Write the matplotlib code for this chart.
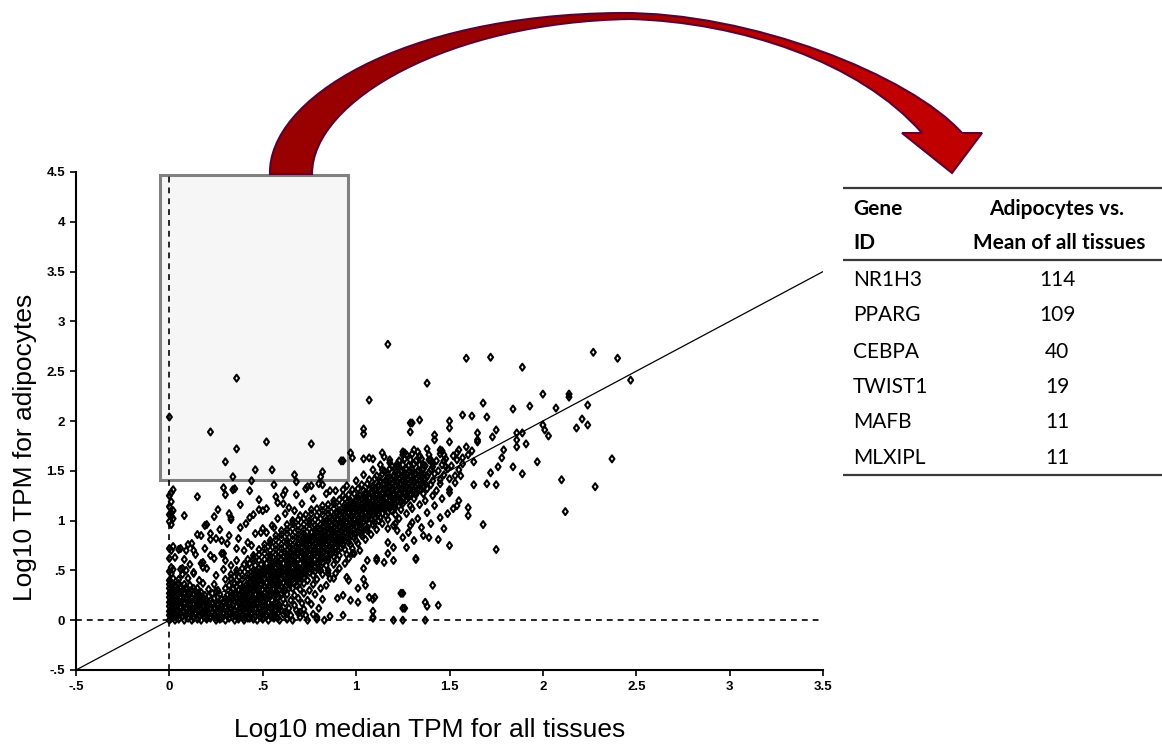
import numpy as np
import matplotlib
matplotlib.use('Agg')
import matplotlib.pyplot as plt
from matplotlib.path import Path
from matplotlib.patches import PathPatch, Rectangle
from matplotlib.colors import LinearSegmentedColormap
from matplotlib.ticker import FuncFormatter

# genes with zero median TPM (the column on x = 0)
zero_col = [(0.00, 0.00), (0.01, 0.02), (0.02, 0.03), (0.00, 0.05), (0.01, 0.06), (0.02, 0.08), (0.00, 0.09),
            (0.01, 0.11), (0.02, 0.12), (0.00, 0.14), (0.01, 0.15), (0.02, 0.17), (0.00, 0.18), (0.01, 0.20),
            (0.02, 0.21), (0.00, 0.23), (0.01, 0.24), (0.02, 0.26), (0.00, 0.27), (0.01, 0.29), (0.02, 0.30),
            (0.00, 0.32), (0.01, 0.34), (0.00, 0.36), (0.01, 0.38), (0.00, 0.40), (0.02, 0.42), (0.01, 0.47),
            (0.00, 0.49), (0.02, 0.51), (0.01, 0.53), (0.00, 0.62), (0.01, 0.70), (0.00, 0.72), (0.02, 0.74),
            (0.01, 0.96), (0.00, 0.99), (0.02, 1.02), (0.01, 1.04), (0.00, 1.06), (0.01, 1.08), (0.02, 1.10),
            (0.00, 1.14), (0.01, 1.19), (0.00, 1.25), (0.01, 1.28), (0.02, 1.31), (0.00, 2.04)]

# low expressed genes near the floor
floor_pts = [
    (0.03, .00), (0.05, .01), (0.08, .00), (0.10, .02), (0.12, .00), (0.15, .01), (0.17, .00), (0.20, .01),
    (0.22, .02), (0.25, .00), (0.27, .01), (0.30, .00), (0.32, .02), (0.35, .00), (0.37, .01), (0.40, .00),
    (0.42, .02), (0.45, .01), (0.47, .00), (0.50, .01), (0.53, .00), (0.56, .02), (0.59, .00), (0.63, .01),
    (0.66, .00), (0.70, .03), (0.74, .00), (0.79, .01), (0.83, .00),
    (0.03, .05), (0.06, .06), (0.09, .05), (0.11, .07), (0.14, .06), (0.16, .05), (0.19, .07), (0.21, .06),
    (0.24, .05), (0.26, .07), (0.29, .06), (0.31, .05), (0.34, .07), (0.36, .06), (0.39, .05), (0.41, .07),
    (0.44, .06), (0.46, .05), (0.49, .07), (0.52, .06), (0.55, .05), (0.58, .07), (0.61, .06), (0.65, .05),
    (0.69, .07), (0.73, .05), (0.77, .06), (0.86, .04),
    (0.04, .10), (0.06, .12), (0.09, .11), (0.12, .10), (0.14, .12), (0.17, .11), (0.19, .10), (0.22, .12),
    (0.24, .11), (0.27, .10), (0.30, .12), (0.33, .11), (0.35, .10), (0.38, .12), (0.40, .11), (0.43, .10),
    (0.46, .12), (0.48, .11), (0.51, .10), (0.54, .12), (0.57, .11), (0.60, .10), (0.64, .12), (0.68, .10),
    (0.72, .11), (0.80, .12),
    (0.03, .15), (0.05, .17), (0.08, .16), (0.11, .15), (0.13, .17), (0.16, .16), (0.18, .15), (0.21, .17),
    (0.23, .16), (0.26, .15), (0.29, .17), (0.32, .16), (0.34, .15), (0.37, .17), (0.40, .16), (0.42, .15),
    (0.45, .17), (0.47, .16), (0.50, .15), (0.53, .17), (0.56, .16), (0.59, .15), (0.62, .17), (0.67, .15),
    (0.71, .17), (0.76, .16),
    (0.04, .20), (0.06, .22), (0.09, .21), (0.11, .20), (0.14, .22), (0.17, .21), (0.20, .20), (0.24, .22),
    (0.28, .21), (0.31, .20), (0.34, .22), (0.36, .21), (0.39, .20), (0.41, .22), (0.44, .21), (0.46, .20),
    (0.49, .22), (0.52, .21), (0.55, .20), (0.58, .22), (0.61, .21), (0.65, .20), (0.69, .22), (0.74, .20),
    (0.82, .21),
    (0.03, .25), (0.05, .27), (0.08, .26), (0.10, .25), (0.13, .27), (0.16, .26), (0.19, .25), (0.23, .27),
    (0.27, .26), (0.31, .25), (0.35, .27), (0.38, .26), (0.41, .25), (0.43, .27), (0.46, .26), (0.48, .25),
    (0.51, .27), (0.54, .26), (0.57, .25), (0.60, .27), (0.63, .26), (0.67, .25), (0.72, .27), (0.78, .26),
    (0.04, .30), (0.06, .32), (0.09, .31), (0.12, .30), (0.15, .32), (0.21, .31), (0.26, .30), (0.30, .32),
    (0.34, .31), (0.37, .30), (0.40, .32), (0.42, .31), (0.45, .30), (0.47, .32), (0.50, .31), (0.53, .30),
    (0.56, .32), (0.59, .31), (0.62, .30), (0.66, .32), (0.70, .31), (0.75, .30), (0.81, .32),
    (0.03, .35), (0.05, .37), (0.08, .36), (0.11, .35), (0.18, .37), (0.24, .36), (0.32, .35), (0.35, .37),
    (0.38, .36), (0.41, .35), (0.44, .37), (0.46, .36), (0.49, .35), (0.52, .37), (0.55, .36), (0.58, .35),
    (0.61, .37), (0.64, .36), (0.68, .35), (0.72, .37), (0.77, .36), (0.84, .35),
]

# the blackest part of the floor, between the rows above
floor_core = [
    (0.04, .03), (0.07, .04), (0.10, .03), (0.13, .02), (0.16, .04), (0.19, .03), (0.22, .04), (0.25, .03),
    (0.28, .02), (0.31, .04), (0.34, .03), (0.37, .04), (0.40, .03), (0.43, .02), (0.46, .04), (0.49, .03),
    (0.52, .04), (0.55, .03), (0.58, .02),
    (0.02, .08), (0.05, .09), (0.08, .08), (0.11, .09), (0.14, .08), (0.17, .07), (0.20, .09), (0.23, .08),
    (0.26, .09), (0.29, .08), (0.32, .07), (0.35, .09), (0.38, .08), (0.41, .09), (0.44, .08), (0.47, .07),
    (0.50, .09), (0.53, .08), (0.57, .09), (0.62, .08),
    (0.03, .13), (0.06, .14), (0.09, .13), (0.12, .12), (0.15, .14), (0.18, .13), (0.21, .14), (0.24, .13),
    (0.27, .12), (0.30, .14), (0.33, .13), (0.36, .14), (0.39, .13), (0.42, .12), (0.45, .14), (0.48, .13),
    (0.51, .14), (0.55, .13), (0.59, .12),
    (0.02, .18), (0.05, .19), (0.08, .18), (0.11, .17), (0.14, .19), (0.17, .18), (0.20, .19), (0.23, .18),
    (0.26, .17), (0.29, .19), (0.32, .18), (0.35, .19), (0.38, .18), (0.41, .17), (0.44, .19), (0.47, .18),
    (0.50, .19), (0.53, .18), (0.57, .17),
    (0.03, .23), (0.06, .24), (0.09, .23), (0.12, .22), (0.15, .24), (0.18, .23), (0.21, .24), (0.26, .23),
    (0.30, .22), (0.33, .24), (0.36, .23), (0.39, .24), (0.42, .23), (0.45, .22), (0.48, .24), (0.51, .23),
    (0.54, .24), (0.58, .23),
    (0.02, .28), (0.05, .29), (0.08, .28), (0.11, .27), (0.14, .29), (0.17, .28), (0.25, .29), (0.33, .28),
    (0.36, .27), (0.39, .29), (0.42, .28), (0.45, .29), (0.48, .28), (0.51, .27), (0.54, .29), (0.57, .28),
    (0.61, .29),
    (0.03, .33), (0.06, .34), (0.09, .33), (0.13, .32), (0.36, .34), (0.39, .33), (0.42, .34), (0.45, .33),
    (0.48, .32), (0.51, .34), (0.54, .33), (0.57, .34), (0.60, .33), (0.64, .32),
]

# main diagonal cloud
band_pts = [
    (0.05, .41), (0.10, .42), (0.16, .40), (0.30, .41), (0.33, .42), (0.36, .40), (0.39, .41), (0.42, .42),
    (0.45, .40), (0.48, .41), (0.51, .42), (0.54, .40), (0.57, .41), (0.60, .42), (0.63, .40), (0.66, .41),
    (0.70, .42), (0.74, .40), (0.79, .41), (0.86, .42),
    (0.07, .46), (0.13, .47), (0.25, .45), (0.33, .46), (0.36, .47), (0.39, .45), (0.42, .46), (0.45, .47),
    (0.48, .45), (0.51, .46), (0.54, .47), (0.57, .45), (0.60, .46), (0.63, .47), (0.66, .45), (0.69, .46),
    (0.73, .47), (0.77, .45), (0.82, .46), (0.89, .47),
    (0.06, .51), (0.09, .50), (0.20, .52), (0.29, .51), (0.36, .50), (0.39, .52), (0.42, .51), (0.45, .50),
    (0.48, .52), (0.51, .51), (0.54, .50), (0.57, .52), (0.60, .51), (0.63, .50), (0.66, .52), (0.69, .51),
    (0.72, .50), (0.76, .52), (0.80, .51), (0.85, .50), (0.91, .52),
    (0.11, .56), (0.17, .57), (0.33, .55), (0.40, .56), (0.43, .57), (0.46, .55), (0.49, .56), (0.52, .57),
    (0.55, .55), (0.58, .56), (0.61, .57), (0.64, .55), (0.67, .56), (0.70, .57), (0.73, .55), (0.76, .56),
    (0.80, .57), (0.84, .55), (0.88, .56), (0.94, .57),
    (0.08, .61), (0.24, .62), (0.36, .60), (0.42, .61), (0.45, .62), (0.48, .60), (0.51, .61), (0.54, .62),
    (0.57, .60), (0.60, .61), (0.63, .62), (0.66, .60), (0.69, .61), (0.72, .62), (0.75, .60), (0.78, .61),
    (0.81, .62), (0.85, .60), (0.90, .61), (0.96, .62),
    (0.14, .66), (0.28, .67), (0.45, .65), (0.48, .66), (0.51, .67), (0.54, .65), (0.57, .66), (0.60, .67),
    (0.63, .65), (0.66, .66), (0.69, .67), (0.72, .65), (0.75, .66), (0.78, .67), (0.81, .65), (0.84, .66),
    (0.87, .67), (0.91, .65), (0.95, .66), (0.99, .67),
    (0.05, .71), (0.19, .72), (0.40, .70), (0.48, .71), (0.51, .72), (0.54, .70), (0.57, .71), (0.60, .72),
    (0.63, .70), (0.66, .71), (0.69, .72), (0.72, .70), (0.75, .71), (0.78, .72), (0.81, .70), (0.84, .71),
    (0.87, .72), (0.90, .70), (0.94, .71), (0.98, .72), (1.02, .70),
    (0.10, .76), (0.31, .77), (0.44, .75), (0.51, .76), (0.54, .77), (0.57, .75), (0.60, .76), (0.63, .77),
    (0.66, .75), (0.69, .76), (0.72, .77), (0.75, .75), (0.78, .76), (0.81, .77), (0.84, .75), (0.87, .76),
    (0.90, .77), (0.93, .75), (0.97, .76), (1.01, .77),
    (0.22, .81), (0.37, .82), (0.54, .80), (0.57, .81), (0.60, .82), (0.63, .80), (0.66, .81), (0.69, .82),
    (0.72, .80), (0.75, .81), (0.78, .82), (0.81, .80), (0.84, .81), (0.87, .82), (0.90, .80), (0.93, .81),
    (0.96, .82), (1.00, .80), (1.05, .81),
    (0.15, .86), (0.46, .87), (0.57, .85), (0.60, .86), (0.63, .87), (0.66, .85), (0.69, .86), (0.72, .87),
    (0.75, .85), (0.78, .86), (0.81, .87), (0.84, .85), (0.87, .86), (0.90, .87), (0.93, .85), (0.96, .86),
    (0.99, .87), (1.03, .85), (1.08, .86),
    (0.27, .91), (0.50, .92), (0.60, .90), (0.63, .91), (0.66, .92), (0.69, .90), (0.72, .91), (0.75, .92),
    (0.78, .90), (0.81, .91), (0.84, .92), (0.87, .90), (0.90, .91), (0.93, .92), (0.96, .90), (0.99, .91),
    (1.02, .92), (1.06, .90), (1.11, .91), (1.17, .92),
    (0.20, .96), (0.41, .97), (0.55, .95), (0.63, .96), (0.66, .97), (0.69, .95), (0.72, .96), (0.75, .97),
    (0.78, .95), (0.81, .96), (0.84, .97), (0.87, .95), (0.90, .96), (0.93, .97), (0.96, .95), (0.99, .96),
    (1.02, .97), (1.05, .95), (1.09, .96), (1.14, .97), (1.20, .95),
    (0.33, 1.01), (0.58, 1.02), (0.66, 1.00), (0.69, 1.01), (0.72, 1.02), (0.75, 1.00), (0.78, 1.01),
    (0.81, 1.02), (0.84, 1.00), (0.87, 1.01), (0.90, 1.02), (0.93, 1.00), (0.96, 1.01), (0.99, 1.02),
    (1.02, 1.00), (1.05, 1.01), (1.08, 1.02), (1.12, 1.00), (1.17, 1.01), (1.23, 1.02),
    (0.45, 1.06), (0.62, 1.07), (0.70, 1.05), (0.73, 1.06), (0.76, 1.07), (0.79, 1.05), (0.82, 1.06),
    (0.85, 1.07), (0.88, 1.05), (0.91, 1.06), (0.94, 1.07), (0.97, 1.05), (1.00, 1.06), (1.03, 1.07),
    (1.06, 1.05), (1.09, 1.06), (1.12, 1.07), (1.16, 1.05), (1.21, 1.06), (1.27, 1.07),
    (0.26, 1.11), (0.52, 1.12), (0.67, 1.10), (0.76, 1.11), (0.79, 1.12), (0.82, 1.10), (0.85, 1.11),
    (0.88, 1.12), (0.91, 1.10), (0.94, 1.11), (0.97, 1.12), (1.00, 1.10), (1.03, 1.11), (1.06, 1.12),
    (1.09, 1.10), (1.12, 1.11), (1.15, 1.12), (1.19, 1.10), (1.24, 1.11), (1.30, 1.12),
    (0.38, 1.16), (0.71, 1.17), (0.82, 1.15), (0.85, 1.16), (0.88, 1.17), (0.91, 1.15), (0.94, 1.16),
    (0.97, 1.17), (1.00, 1.15), (1.03, 1.16), (1.06, 1.17), (1.09, 1.15), (1.12, 1.16), (1.15, 1.17),
    (1.18, 1.15), (1.21, 1.16), (1.25, 1.17), (1.29, 1.15), (1.34, 1.16),
    (0.48, 1.21), (0.77, 1.22), (0.88, 1.20), (0.91, 1.21), (0.94, 1.22), (0.97, 1.20), (1.00, 1.21),
    (1.03, 1.22), (1.06, 1.20), (1.09, 1.21), (1.12, 1.22), (1.15, 1.20), (1.18, 1.21), (1.21, 1.22),
    (1.24, 1.20), (1.27, 1.21), (1.31, 1.22), (1.37, 1.20),
    (0.61, 1.26), (0.84, 1.27), (0.93, 1.25), (0.96, 1.26), (0.99, 1.27), (1.02, 1.25), (1.05, 1.26),
    (1.08, 1.27), (1.11, 1.25), (1.14, 1.26), (1.17, 1.27), (1.20, 1.25), (1.23, 1.26), (1.26, 1.27),
    (1.29, 1.25), (1.32, 1.26), (1.36, 1.27), (1.41, 1.25),
    (0.34, 1.31), (0.73, 1.32), (0.89, 1.30), (0.98, 1.31), (1.01, 1.32), (1.04, 1.30), (1.07, 1.31),
    (1.10, 1.32), (1.13, 1.30), (1.16, 1.31), (1.19, 1.32), (1.22, 1.30), (1.25, 1.31), (1.28, 1.32),
    (1.31, 1.30), (1.34, 1.31), (1.38, 1.32), (1.43, 1.30), (1.50, 1.31),
    (0.56, 1.36), (0.80, 1.37), (0.95, 1.35), (1.03, 1.36), (1.06, 1.37), (1.09, 1.35), (1.12, 1.36),
    (1.15, 1.37), (1.18, 1.35), (1.21, 1.36), (1.24, 1.37), (1.27, 1.35), (1.30, 1.36), (1.33, 1.37),
    (1.36, 1.35), (1.40, 1.36), (1.45, 1.37),
    (0.44, 1.40), (0.68, 1.39), (1.00, 1.40), (1.07, 1.41), (1.10, 1.42), (1.13, 1.40), (1.16, 1.41),
    (1.19, 1.42), (1.22, 1.40), (1.25, 1.41), (1.28, 1.42), (1.31, 1.40), (1.34, 1.41), (1.37, 1.42),
    (1.41, 1.40), (1.45, 1.41), (1.50, 1.42),
    (1.04, 1.46), (1.11, 1.45), (1.14, 1.47), (1.17, 1.46), (1.20, 1.45), (1.23, 1.47), (1.26, 1.46),
    (1.29, 1.45), (1.32, 1.47), (1.35, 1.46), (1.38, 1.45), (1.42, 1.47), (1.47, 1.46), (1.53, 1.45),
    (1.09, 1.51), (1.15, 1.50), (1.18, 1.52), (1.21, 1.51), (1.24, 1.50), (1.27, 1.52), (1.30, 1.51),
    (1.33, 1.50), (1.36, 1.52), (1.40, 1.51), (1.44, 1.50), (1.49, 1.52), (1.55, 1.51),
    (1.13, 1.56), (1.19, 1.55), (1.22, 1.57), (1.25, 1.56), (1.28, 1.55), (1.31, 1.57), (1.34, 1.56),
    (1.37, 1.55), (1.41, 1.57), (1.46, 1.56), (1.51, 1.55), (1.57, 1.57),
    (1.18, 1.61), (1.23, 1.60), (1.26, 1.62), (1.29, 1.61), (1.32, 1.60), (1.35, 1.62), (1.39, 1.61),
    (1.43, 1.60), (1.48, 1.62), (1.54, 1.61),
    (1.25, 1.66), (1.30, 1.67), (1.34, 1.65), (1.39, 1.66), (1.45, 1.67), (1.52, 1.65), (1.60, 1.66),
    (1.31, 1.71), (1.38, 1.72), (1.46, 1.70), (1.55, 1.71),
]

# the blackest ridge of the diagonal cloud, between the rows above
band_core = [
    (0.43, .38), (0.46, .39), (0.49, .37), (0.52, .38), (0.55, .39), (0.58, .37), (0.61, .38), (0.64, .39),
    (0.67, .37), (0.70, .38),
    (0.45, .43), (0.48, .44), (0.51, .42), (0.54, .43), (0.57, .44), (0.60, .42), (0.63, .43), (0.66, .44),
    (0.69, .42), (0.72, .43),
    (0.48, .48), (0.51, .49), (0.54, .47), (0.57, .48), (0.60, .49), (0.63, .47), (0.66, .48), (0.69, .49),
    (0.72, .47), (0.75, .48), (0.78, .49),
    (0.51, .53), (0.54, .54), (0.57, .52), (0.60, .53), (0.63, .54), (0.66, .52), (0.69, .53), (0.72, .54),
    (0.75, .52), (0.78, .53), (0.81, .54),
    (0.55, .58), (0.58, .59), (0.61, .57), (0.64, .58), (0.67, .59), (0.70, .57), (0.73, .58), (0.76, .59),
    (0.79, .57), (0.82, .58),
    (0.58, .63), (0.61, .64), (0.64, .62), (0.67, .63), (0.70, .64), (0.73, .62), (0.76, .63), (0.79, .64),
    (0.82, .62), (0.85, .63), (0.88, .64),
    (0.62, .68), (0.65, .69), (0.68, .67), (0.71, .68), (0.74, .69), (0.77, .67), (0.80, .68), (0.83, .69),
    (0.86, .67), (0.89, .68),
    (0.65, .73), (0.68, .74), (0.71, .72), (0.74, .73), (0.77, .74), (0.80, .72), (0.83, .73), (0.86, .74),
    (0.89, .72), (0.92, .73),
    (0.69, .78), (0.72, .79), (0.75, .77), (0.78, .78), (0.81, .79), (0.84, .77), (0.87, .78), (0.90, .79),
    (0.93, .77), (0.96, .78),
    (0.72, .83), (0.75, .84), (0.78, .82), (0.81, .83), (0.84, .84), (0.87, .82), (0.90, .83), (0.93, .84),
    (0.96, .82), (0.99, .83),
    (0.76, .88), (0.79, .89), (0.82, .87), (0.85, .88), (0.88, .89), (0.91, .87), (0.94, .88), (0.97, .89),
    (1.00, .87), (1.03, .88),
    (0.79, .93), (0.82, .94), (0.85, .92), (0.88, .93), (0.91, .94), (0.94, .92), (0.97, .93), (1.00, .94),
    (1.03, .92), (1.06, .93),
    (0.83, .98), (0.86, .99), (0.89, .97), (0.92, .98), (0.95, .99), (0.98, .97), (1.01, .98), (1.04, .99),
    (1.07, .97), (1.10, .98),
    (0.86, 1.03), (0.89, 1.04), (0.92, 1.02), (0.95, 1.03), (0.98, 1.04), (1.01, 1.02), (1.04, 1.03),
    (1.07, 1.04), (1.10, 1.02), (1.13, 1.03),
    (0.90, 1.08), (0.93, 1.09), (0.96, 1.07), (0.99, 1.08), (1.02, 1.09), (1.05, 1.07), (1.08, 1.08),
    (1.11, 1.09), (1.14, 1.07), (1.17, 1.08),
    (0.94, 1.13), (0.97, 1.14), (1.00, 1.12), (1.03, 1.13), (1.06, 1.14), (1.09, 1.12), (1.12, 1.13),
    (1.15, 1.14), (1.18, 1.12), (1.21, 1.13),
    (0.97, 1.18), (1.00, 1.19), (1.03, 1.17), (1.06, 1.18), (1.09, 1.19), (1.12, 1.17), (1.15, 1.18),
    (1.18, 1.19), (1.21, 1.17), (1.24, 1.18),
    (1.01, 1.23), (1.04, 1.24), (1.07, 1.22), (1.10, 1.23), (1.13, 1.24), (1.16, 1.22), (1.19, 1.23),
    (1.22, 1.24), (1.25, 1.22), (1.28, 1.23),
    (1.05, 1.28), (1.08, 1.29), (1.11, 1.27), (1.14, 1.28), (1.17, 1.29), (1.20, 1.27), (1.23, 1.28),
    (1.26, 1.29), (1.29, 1.27), (1.32, 1.28),
    (1.09, 1.33), (1.12, 1.34), (1.15, 1.32), (1.18, 1.33), (1.21, 1.34), (1.24, 1.32), (1.27, 1.33),
    (1.30, 1.34), (1.33, 1.32), (1.36, 1.33),
    (1.13, 1.38), (1.16, 1.39), (1.19, 1.37), (1.22, 1.38), (1.25, 1.39), (1.28, 1.37), (1.31, 1.38),
    (1.34, 1.39), (1.37, 1.37),
    (1.17, 1.43), (1.20, 1.44), (1.23, 1.42), (1.26, 1.43), (1.29, 1.44), (1.32, 1.42), (1.35, 1.43),
    (1.38, 1.44),
    (1.21, 1.48), (1.24, 1.49), (1.27, 1.47), (1.30, 1.48), (1.33, 1.49), (1.36, 1.47), (1.39, 1.48),
]

# sparse genes above and below the cloud
scatter_pts = [
    (0.15, 1.24), (0.29, 1.33), (0.30, 1.26), (0.35, 1.32), (0.43, 1.30), (0.57, 1.24), (0.62, 1.30),
    (0.68, 1.26), (0.74, 1.34), (0.76, 1.35), (0.82, 1.36), (0.86, 1.30), (0.93, 1.31), (0.58, 1.18),
    (0.61, 1.17), (0.64, 1.13), (0.48, 1.11), (0.50, 1.10), (0.08, 1.05), (0.24, 1.04), (0.32, 1.07),
    (0.33, 1.03), (0.43, 1.03), (0.19, 0.95), (0.38, 0.93), (0.49, 0.88), (0.52, 0.88), (0.56, 0.93),
    (0.22, 0.87), (0.25, 0.82), (0.28, 0.80), (0.32, 0.85), (0.17, 0.85), (0.12, 0.77), (0.06, 0.72),
    (0.42, 0.78), (0.36, 0.72), (0.22, 0.65), (0.29, 0.67), (0.30, 0.60), (0.03, 0.63), (0.13, 0.70),
    (0.18, 0.58), (0.18, 0.53), (0.07, 0.52), (0.13, 0.48), (0.09, 0.70),
    (0.90, 0.22), (0.93, 0.25), (0.97, 0.20), (1.01, 0.18), (1.07, 0.23), (1.10, 0.23), (1.09, 0.03),
    (0.93, 0.05), (1.20, 0.00), (1.25, 0.00), (1.25, 0.12), (1.26, 0.12), (1.25, 0.27), (1.24, 0.27),
    (0.81, 0.50), (0.85, 0.47), (0.88, 0.42), (0.95, 0.43), (0.96, 0.40), (1.01, 0.32), (1.05, 0.35),
    (1.04, 0.52), (1.04, 0.41), (1.06, 0.60), (0.98, 0.67), (1.11, 0.60), (1.17, 0.67), (1.20, 0.60),
    (1.32, 0.62), (1.15, 0.58), (1.11, 0.62), (0.56, 0.03), (0.63, 0.07), (0.70, 0.08), (0.79, 0.03),
    (1.09, 0.21), (1.09, 0.09), (1.09, 0.02), (1.20, 0.73), (1.27, 0.73), (1.32, 0.61), (1.30, 0.98),
    (1.35, 0.93), (1.22, 0.90), (1.21, 0.97), (1.29, 0.95), (1.17, 0.78), (1.39, 0.83), (1.44, 0.81),
    (1.50, 0.75), (1.41, 0.35), (1.37, 0.18), (1.38, 0.14), (1.44, 0.15), (1.37, 0.00), (1.54, 1.15),
    (1.60, 1.13), (1.60, 1.05), (1.49, 1.07), (1.68, 0.96), (1.75, 0.71), (2.12, 1.09), (2.28, 1.34),
    (1.70, 1.37), (1.75, 1.36), (1.63, 1.36), (2.10, 1.41), (1.72, 1.48), (1.89, 1.47), (1.84, 1.54),
    (1.76, 1.54), (1.97, 1.59), (2.37, 1.62), (1.59, 1.74), (1.86, 1.74), (1.91, 1.77), (1.86, 1.88),
    (1.89, 1.88), (1.73, 1.84), (1.75, 1.91), (1.65, 1.88), (1.65, 1.81), (1.50, 1.79), (1.42, 1.86),
    (1.42, 1.81), (1.50, 2.00), (1.50, 1.93), (1.29, 1.98), (1.29, 1.89), (1.34, 2.01), (2.00, 1.96),
    (2.01, 1.91), (2.03, 1.85), (2.18, 1.93), (2.24, 1.96), (2.21, 2.02), (1.57, 2.06), (1.62, 2.05),
    (1.70, 2.04), (2.24, 2.16), (2.07, 2.13), (1.93, 2.15), (1.84, 2.12), (1.68, 2.18), (2.14, 2.24),
    (2.00, 2.27), (1.14, 1.68), (1.15, 1.64), (1.09, 1.62), (1.04, 1.62), (0.93, 1.60), (1.18, 1.58),
    (1.22, 1.54), (1.14, 1.51), (1.25, 1.69), (1.27, 1.66), (1.33, 1.69), (1.34, 1.64), (1.36, 1.56),
    (1.40, 1.61), (1.41, 1.54), (1.45, 1.71), (1.47, 1.66), (1.47, 1.60), (1.48, 1.54), (1.54, 1.68),
    (1.57, 1.63), (1.62, 1.70), (1.63, 1.59), (1.65, 1.79), (1.79, 1.71), (1.78, 1.63), (1.86, 1.81),
    (0.98, 1.63), (1.07, 1.63), (0.97, 1.68), (1.26, 1.68), (1.04, 1.92), (1.04, 1.87), (0.92, 1.60),
    (1.28, 0.88), (1.33, 1.02), (1.38, 1.08), (1.42, 1.15), (1.46, 1.22), (1.50, 1.28), (1.36, 0.85),
    (1.40, 0.97), (1.45, 1.03), (1.52, 1.12), (1.31, 0.80), (1.25, 0.83), (1.47, 0.92), (1.55, 1.20),
    (1.53, 1.38), (1.56, 1.45),
]

# isolated high genes in the highlighted box and up the diagonal
high_pts = [
    (0.36, 2.43), (0.22, 1.89), (0.36, 1.72), (0.52, 1.79), (0.76, 1.77), (0.30, 1.59), (0.46, 1.51),
    (0.55, 1.51), (0.67, 1.46), (0.34, 1.44), (0.82, 1.49), (0.81, 1.44), (1.17, 2.77), (1.07, 2.21),
    (1.59, 2.63), (1.72, 2.64), (1.89, 2.54), (1.38, 2.38), (2.27, 2.69), (2.40, 2.63), (2.47, 2.41),
    (2.14, 2.27), (1.30, 1.98),
]

genes = np.array(zero_col + floor_pts + floor_core + band_pts + band_core + scatter_pts + high_pts)

x_ticks = [-0.5, 0, 0.5, 1, 1.5, 2, 2.5, 3, 3.5]
y_ticks = [-0.5, 0, 0.5, 1, 1.5, 2, 2.5, 3, 3.5, 4, 4.5]

table_genes = ['NR1H3', 'PPARG', 'CEBPA', 'TWIST1', 'MAFB', 'MLXIPL']
table_ratio = [114, 109, 40, 19, 11, 11]


def tick_fmt(v, pos):
    if abs(v) < 1e-9:
        return '0'
    s = '%g' % v
    return s.replace('0.', '.')


fig = plt.figure(figsize=(11.62, 7.45), dpi=100)
W, H = 1162, 745
ax = fig.add_axes([76 / W, 75 / H, 747 / W, 498 / H])

ax.set_xlim(-0.5, 3.5)
ax.set_ylim(-0.5, 4.5)

# highlighted box
ax.add_patch(Rectangle((-0.05, 1.405), 1.005, 3.065, facecolor='#f6f6f6', edgecolor='#808080',
                       lw=2.2, zorder=1))

ax.plot([0, 0], [-0.5, 4.5], color='black', lw=1.2, ls=(0, (3.5, 3)), zorder=2)
ax.plot([-0.5, 3.5], [0, 0], color='black', lw=1.2, ls=(0, (3.5, 3)), zorder=2)
ax.plot([-0.5, 3.5], [-0.5, 3.5], color='black', lw=0.9, zorder=2)

# small hollow diamond, a bit taller than wide
diamond = Path([(0, 1), (0.72, 0), (0, -1), (-0.72, 0), (0, 1)],
               [Path.MOVETO, Path.LINETO, Path.LINETO, Path.LINETO, Path.CLOSEPOLY])
ax.scatter(genes[:, 0], genes[:, 1], marker=diamond, s=25, facecolors='none', edgecolors='black',
           linewidths=1.5, zorder=3, clip_on=False)

for side in ['top', 'right']:
    ax.spines[side].set_visible(False)
for side in ['left', 'bottom']:
    ax.spines[side].set_linewidth(1.5)

ax.set_xticks(x_ticks)
ax.set_yticks(y_ticks)
ax.xaxis.set_major_formatter(FuncFormatter(tick_fmt))
ax.yaxis.set_major_formatter(FuncFormatter(tick_fmt))
ax.tick_params(direction='out', length=4, width=1.2, labelsize=9.5, pad=4)
for lab in ax.get_xticklabels() + ax.get_yticklabels():
    lab.set_family('Liberation Sans')
    lab.set_weight('bold')

fig.text(430 / W, 1 - 730 / H, 'Log10 median TPM for all tissues', ha='center', va='center',
         fontsize=19, family='Liberation Sans')
fig.text(25 / W, 1 - 447 / H, 'Log10 TPM for adipocytes', ha='center', va='center',
         fontsize=19, family='Liberation Sans', rotation=90)

# overlay in pixel coordinates for the arrow and the table
ov = fig.add_axes([0, 0, 1, 1], zorder=5)
ov.set_xlim(0, W)
ov.set_ylim(H, 0)
ov.axis('off')

verts = [(270, 174), (268, 100), (400, 15), (620, 13), (750, 12), (910, 75), (962, 133),
         (982, 133), (952, 173), (902, 133), (922, 133), (860, 62), (740, 22), (630, 19),
         (450, 22), (312, 100), (312, 174), (270, 174)]
codes = [Path.MOVETO, Path.CURVE4, Path.CURVE4, Path.CURVE4, Path.CURVE4, Path.CURVE4, Path.CURVE4,
         Path.LINETO, Path.LINETO, Path.LINETO, Path.LINETO, Path.CURVE4, Path.CURVE4, Path.CURVE4,
         Path.CURVE4, Path.CURVE4, Path.CURVE4, Path.CLOSEPOLY]
arrow = PathPatch(Path(verts, codes), facecolor='none', edgecolor='#5c0030', lw=1.5, zorder=6)
ov.add_patch(arrow)
reds = LinearSegmentedColormap.from_list('reds', [(0, '#990000'), (0.45, '#990000'),
                                                  (0.75, '#c00000'), (1, '#c00000')])
grad = ov.imshow(np.linspace(0, 1, 256).reshape(1, -1), cmap=reds, extent=[260, 990, 180, 5],
                 aspect='auto', zorder=5)
grad.set_clip_path(arrow)
ov.set_xlim(0, W)
ov.set_ylim(H, 0)

# table
tfont = ['Lato', 'DejaVu Sans']
for yy in [188, 260, 475]:
    ov.plot([843, W], [yy, yy], color='#3a3a3a', lw=1.6, solid_capstyle='butt')
ov.text(853, 209, 'Gene', fontsize=15, weight='bold', family=tfont, va='center')
ov.text(853, 243, 'ID', fontsize=15, weight='bold', family=tfont, va='center')
ov.text(1057, 209, 'Adipocytes vs.', fontsize=15, weight='bold', family=tfont, va='center', ha='center')
ov.text(1059, 243, 'Mean of all tissues', fontsize=15, weight='bold', family=tfont, va='center',
        ha='center')
row_y = [280, 315, 352, 387, 422, 458]
for g, r, yy in zip(table_genes, table_ratio, row_y):
    ov.text(853, yy, g, fontsize=15, family=tfont, va='center')
    ov.text(1057, yy, str(r), fontsize=15, family=tfont, va='center', ha='center')

fig.savefig('out.png', dpi=100)
